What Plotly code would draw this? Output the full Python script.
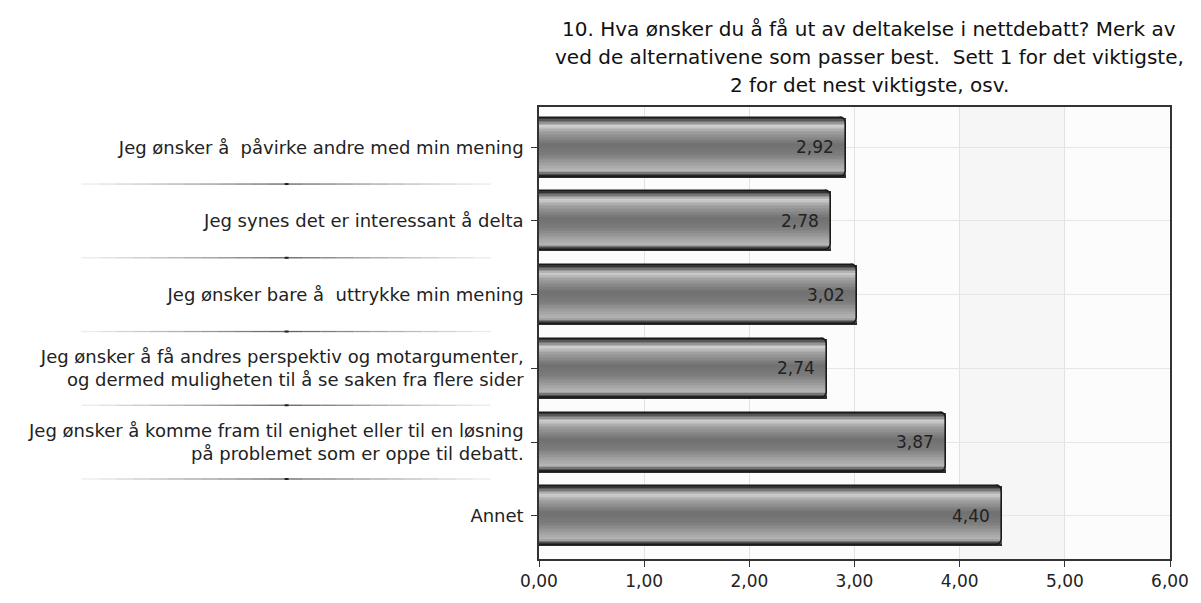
import plotly.graph_objects as go

# survey answers, average rank
categories = [
    "Jeg ønsker å\u00a0 påvirke andre med min mening",
    "Jeg synes det er interessant å delta",
    "Jeg ønsker bare å\u00a0 uttrykke min mening",
    "Jeg ønsker å få andres perspektiv og motargumenter,<br>og dermed muligheten til å se saken fra flere sider",
    "Jeg ønsker å komme fram til enighet eller til en løsning<br>på problemet som er oppe til debatt.",
    "Annet",
]
values = [2.92, 2.78, 3.02, 2.74, 3.87, 4.40]

title_lines = [
    "10. Hva ønsker du å få ut av deltakelse i nettdebatt? Merk av",
    "ved de alternativene som passer best.\u00a0 Sett 1 for det viktigste,",
    "2 for det nest viktigste, osv.",
]

FONT = "DejaVu Sans, Arial, sans-serif"
BAR_W = 0.8
N_STRIPS = 40

FIG_W, FIG_H = 1201, 603
PLOT_L, PLOT_R, PLOT_T, PLOT_B = 539, 1179, 107, 568

# vertical shading of the "tube" bars, top -> bottom
stops = [
    (0.00, (35, 35, 35)),
    (0.05, (105, 105, 105)),
    (0.14, (208, 208, 208)),
    (0.24, (160, 160, 160)),
    (0.45, (112, 112, 112)),
    (0.62, (124, 124, 124)),
    (0.82, (168, 168, 168)),
    (0.90, (182, 182, 182)),
    (0.96, (80, 80, 80)),
    (1.00, (28, 28, 28)),
]


def shade(t):
    for (t0, c0), (t1, c1) in zip(stops[:-1], stops[1:]):
        if t0 <= t <= t1:
            f = (t - t0) / (t1 - t0)
            c = [round(a + (b - a) * f) for a, b in zip(c0, c1)]
            return "rgb(%d,%d,%d)" % tuple(c)
    return "rgb(28,28,28)"


def px_x(p):
    return (p - PLOT_L) / (PLOT_R - PLOT_L)


def px_y(p):
    return (PLOT_B - p) / (PLOT_B - PLOT_T)


fig = go.Figure()

step = BAR_W / N_STRIPS
for i in range(N_STRIPS):
    fig.add_trace(
        go.Bar(
            y=categories,
            x=values,
            orientation="h",
            width=step * 1.6,
            offset=-BAR_W / 2 + i * step,
            marker=dict(color=shade((i + 0.5) / N_STRIPS), line=dict(width=0), cornerradius=2),
            hoverinfo="skip",
            showlegend=False,
        )
    )

# outline on top
fig.add_trace(
    go.Bar(
        y=categories,
        x=values,
        orientation="h",
        width=BAR_W,
        offset=-BAR_W / 2,
        marker=dict(color="rgba(0,0,0,0)", line=dict(color="#1a1a1a", width=1.6), cornerradius=6),
        showlegend=False,
    )
)

# value labels inside bar ends
for c, v in zip(categories, values):
    fig.add_annotation(
        x=v, y=c, text=("%.2f" % v).replace(".", ","),
        xanchor="right", xshift=-10, showarrow=False,
        font=dict(family=FONT, size=17, color="#222222"),
    )

# title, one annotation per line
title_y = [27, 56, 85]
for txt, py in zip(title_lines, title_y):
    fig.add_annotation(
        x=px_x(874), xref="paper", y=px_y(py), yref="paper",
        text=txt, showarrow=False, xanchor="center", yanchor="middle",
        font=dict(family=FONT, size=20, color="#111111"),
    )

# faint band between 4 and 5
fig.add_shape(
    type="rect", x0=4, x1=5, y0=0, y1=1, xref="x", yref="paper",
    fillcolor="#f6f6f6", line=dict(width=0), layer="below",
)

# separator lines between the category labels
left_px, right_px, mid_px = 75, 490, 283
n_seg = 24
for b in range(len(categories) - 1):
    yb = b + 0.5
    for k in range(n_seg):
        a0 = left_px + (right_px - left_px) * k / n_seg
        a1 = left_px + (right_px - left_px) * (k + 1) / n_seg
        d = abs((a0 + a1) / 2 - mid_px) / (right_px - mid_px)
        g = round(90 + (240 - 90) * min(d, 1) ** 0.9)
        fig.add_shape(
            type="line", xref="paper", yref="y",
            x0=px_x(a0), x1=px_x(a1), y0=yb, y1=yb,
            line=dict(color="rgb(%d,%d,%d)" % (g, g, g), width=1.3),
        )
    fig.add_shape(
        type="line", xref="paper", yref="y",
        x0=px_x(mid_px - 2), x1=px_x(mid_px + 2), y0=yb, y1=yb,
        line=dict(color="#222222", width=2),
    )

fig.update_layout(
    width=FIG_W,
    height=FIG_H,
    barmode="overlay",
    bargap=0,
    separators=", ",
    margin=dict(l=PLOT_L, r=FIG_W - PLOT_R, t=PLOT_T, b=FIG_H - PLOT_B),
    paper_bgcolor="white",
    plot_bgcolor="#fcfcfc",
    font=dict(family=FONT, size=17, color="#222222"),
    showlegend=False,
)
fig.update_xaxes(
    range=[0, 6], dtick=1, tickformat=".2f",
    showgrid=True, gridcolor="#e2e2e2", gridwidth=1,
    showline=True, linecolor="#333333", linewidth=1.5, mirror=True,
    ticks="outside", ticklen=6, tickcolor="#333333",
    zeroline=False, tickfont=dict(size=17, color="#222222"),
)
fig.update_yaxes(
    type="category", categoryorder="array", categoryarray=categories,
    range=[5.585, -0.545],
    showgrid=True, gridcolor="#e6e6e6",
    showline=True, linecolor="#333333", linewidth=1.5, mirror=True,
    ticks="outside", ticklen=6, tickcolor="#333333",
    ticklabelstandoff=4, automargin=False,
    tickfont=dict(size=18, color="#222222"),
)

# drop the default 8px page margin so the figure fills the window exactly
fig.write_html(
    "out.html",
    config={"displayModeBar": False},
    post_script="document.body.style.margin='0px'; document.body.style.overflow='hidden';",
)
